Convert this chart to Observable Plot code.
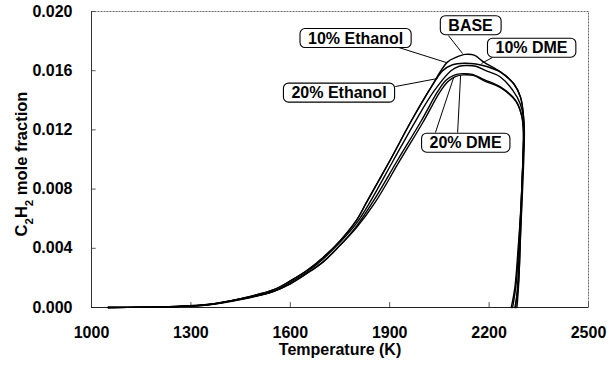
<!DOCTYPE html>
<html>
<head>
<meta charset="utf-8">
<script src="https://cdn.jsdelivr.net/npm/d3@7"></script>
<script src="https://cdn.jsdelivr.net/npm/@observablehq/plot@0.6"></script>
<style>
  html, body { margin: 0; padding: 0; background: #fff; }
  #chart { width: 615px; height: 367px; }
</style>
</head>
<body>
<div id="chart"></div>
<script>
// ---- data ----
const xTicks = [1000, 1300, 1600, 1900, 2200, 2500];
const yTicks = [0, 0.004, 0.008, 0.012, 0.016, 0.020];

const baseT = [1050,1150,1250,1350,1450,1550,1600,1650,1700,1750,1800,1830,1900,1965,2020,2074,2100,2128,2155,2184,2235,2275,2295,2303,2305,2301,2295,2289,2284];
const baseV = [0,0.00002,0.00007,0.0002,0.0006,0.0012,0.0018,0.0025,0.0034,0.0045,0.0059,0.0071,0.0099,0.0126,0.0147,0.01658,0.0169,0.0171,0.01705,0.01658,0.0159,0.0151,0.0142,0.0131,0.0120,0.0090,0.0050,0.0015,0];

const eth10T = [1050,1150,1250,1350,1450,1550,1600,1650,1700,1750,1800,1830,1900,1965,2020,2060,2090,2125,2160,2190,2235,2275,2295,2303,2305,2300,2293,2286,2280];
const eth10V = [0,0.00002,0.00007,0.0002,0.0006,0.0012,0.0018,0.0025,0.0034,0.0045,0.0059,0.0071,0.0099,0.0126,0.0147,0.0160,0.01640,0.0165,0.01645,0.0163,0.0159,0.0151,0.0142,0.0131,0.0120,0.0088,0.0050,0.0015,0];

const dme10T = [1050,1150,1250,1350,1450,1550,1600,1650,1700,1750,1800,1840,1910,1978,2033,2085,2110,2130,2160,2190,2235,2285,2300,2306,2306,2302,2295,2288,2278];
const dme10V = [0,0.00002,0.00006,0.00019,0.00058,0.0011,0.0017,0.0024,0.0033,0.0044,0.0057,0.0071,0.0099,0.0126,0.0146,0.0160,0.0163,0.01635,0.0163,0.0160,0.01556,0.0142,0.0133,0.0122,0.0110,0.0085,0.0050,0.0015,0];

const eth20T = [1050,1150,1250,1350,1450,1550,1600,1650,1700,1750,1800,1851,1925,1995,2045,2070,2095,2120,2150,2185,2235,2280,2298,2303,2302,2297,2289,2281,2271];
const eth20V = [0,0.00002,0.00006,0.00018,0.00055,0.0011,0.0016,0.0023,0.0031,0.0042,0.0055,0.0072,0.0100,0.0126,0.0146,0.01535,0.0157,0.0158,0.01575,0.0154,0.01489,0.0140,0.0130,0.0120,0.0100,0.0070,0.0040,0.0015,0];

const dme20T = [1050,1150,1250,1350,1450,1550,1600,1650,1700,1750,1800,1856,1930,2000,2050,2075,2098,2122,2152,2187,2237,2282,2299,2304,2302,2296,2287,2278,2267];
const dme20V = [0,0.00002,0.00006,0.00017,0.00053,0.0011,0.0016,0.0023,0.0031,0.0042,0.0054,0.0071,0.0099,0.0125,0.0145,0.01525,0.0156,0.01572,0.01568,0.0153,0.01482,0.0139,0.0129,0.0119,0.0098,0.0068,0.0038,0.0014,0];

const seriesNames = ["BASE", "10% Ethanol", "10% DME", "20% Ethanol", "20% DME"];
const seriesT = [baseT, eth10T, dme10T, eth20T, dme20T];
const seriesV = [baseV, eth10V, dme10V, eth20V, dme20V];

// label boxes (data position of box centre) and leader lines
const labelText = ["BASE", "10% Ethanol", "10% DME", "20% Ethanol", "20% DME"];
const labelT = [2144, 1797, 2328, 1747, 2129];
const labelV = [0.01905, 0.01818, 0.01753, 0.01449, 0.01111];

const leaderT1 = [2077, 1917, 2210, 1917, 2038, 2105];
const leaderV1 = [0.01838, 0.01764, 0.01689, 0.01493, 0.01182, 0.01182];
const leaderT2 = [2120, 2071, 2177, 2044, 2093, 2114];
const leaderV2 = [0.01716, 0.01655, 0.01649, 0.01547, 0.01554, 0.01568];

// ---- build tables ----
const rows = [];
seriesNames.forEach((name, i) => {
  seriesT[i].forEach((t, j) => rows.push({series: name, T: t, v: seriesV[i][j]}));
});
const labels = labelText.map((s, i) => ({text: s, T: labelT[i], v: labelV[i]}));
const leaders = leaderT1.map((t, i) => ({x1: t, y1: leaderV1[i], x2: leaderT2[i], y2: leaderV2[i]}));

const font = "'Liberation Sans', Arial, Helvetica, sans-serif";

const chart = Plot.plot({
  width: 615,
  height: 367,
  marginLeft: 91,
  marginRight: 27,
  marginTop: 11,
  marginBottom: 60,
  style: {fontFamily: font, fontSize: "16px", fontWeight: "bold", background: "#fff", color: "#000", overflow: "visible"},
  x: {domain: [1000, 2500]},
  y: {domain: [0, 0.02]},
  marks: [
    Plot.frame({stroke: "#666", strokeDasharray: "2,1", strokeWidth: 1}),
    Plot.ruleX(xTicks, {y1: 0, y2: 0.00033, stroke: "#555", strokeWidth: 1}),
    Plot.ruleY(yTicks, {x1: 1000, x2: 1014, stroke: "#555", strokeWidth: 1}),
    Plot.ruleY([0], {stroke: "#222", strokeWidth: 1.2}),
    Plot.ruleX([1000], {stroke: "#333", strokeWidth: 1}),
    Plot.line(rows, {x: "T", y: "v", z: "series", stroke: "#000", strokeWidth: 1.4, curve: "catmull-rom"}),
    Plot.axisX({ticks: xTicks, tickSize: 0, tickPadding: 19, fontSize: 16, fontWeight: "bold", label: null, tickFormat: d => String(d)}),
    Plot.axisY({ticks: yTicks, tickSize: 0, tickPadding: 19, fontSize: 16, fontWeight: "bold", label: null, tickFormat: d3.format(".3f")}),
    Plot.text(["Temperature (K)"], {frameAnchor: "bottom", dy: 36, lineAnchor: "top", fontSize: 16, fontWeight: "bold", fill: "#000"}),
    Plot.link(leaders, {x1: "x1", y1: "y1", x2: "x2", y2: "y2", stroke: "#000", strokeWidth: 1}),
    Plot.text(labels, {x: "T", y: "v", text: "text", fontSize: 16, fontWeight: "bold", fill: "#000", className: "lbl"})
  ]
});

document.getElementById("chart").appendChild(chart);

// rounded boxes behind the labels
const svg = d3.select(chart);
svg.selectAll(".lbl text").each(function () {
  const bb = this.getBBox();
  const padX = 8, padY = 1;
  const r = d3.select(this.parentNode).insert("rect", () => this)
    .attr("x", bb.x - padX).attr("y", bb.y - padY)
    .attr("width", bb.width + 2 * padX).attr("height", bb.height + 2 * padY)
    .attr("rx", 5).attr("ry", 5)
    .attr("fill", "#fff").attr("stroke", "#000").attr("stroke-width", 1.1);
  const tr = this.getAttribute("transform");
  if (tr) r.attr("transform", tr);
});

// y axis title with subscripts
const yl = svg.append("text")
  .attr("transform", "translate(27,164) rotate(-90)")
  .attr("text-anchor", "middle")
  .attr("font-family", font).attr("font-size", 16.5).attr("font-weight", "bold").attr("fill", "#000");
yl.append("tspan").text("C");
yl.append("tspan").attr("baseline-shift", "sub").attr("font-size", 11.5).text("2");
yl.append("tspan").text("H");
yl.append("tspan").attr("baseline-shift", "sub").attr("font-size", 11.5).text("2");
yl.append("tspan").text(" mole fraction");
</script>
</body>
</html>
